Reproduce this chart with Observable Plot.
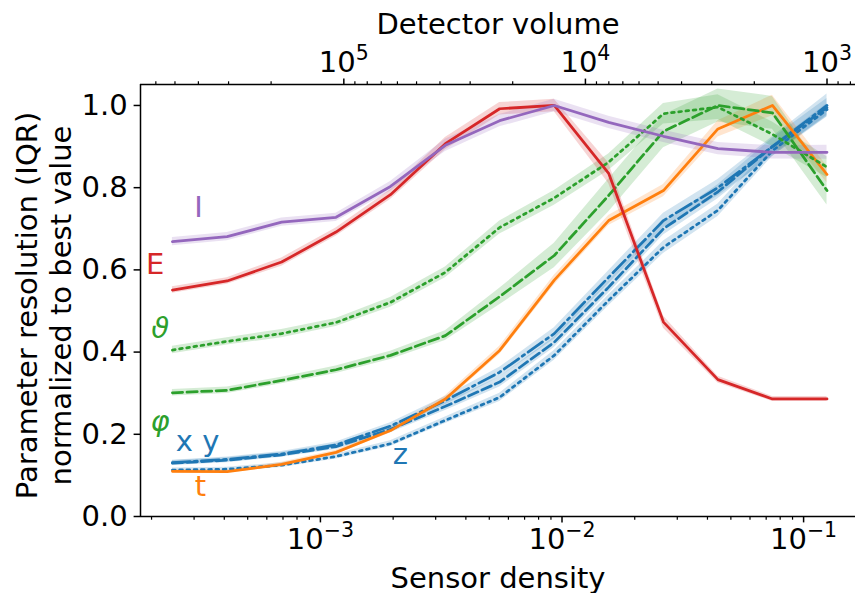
<!DOCTYPE html>
<html><head><meta charset="utf-8">
<script src="https://cdn.jsdelivr.net/npm/d3@7"></script>
<script src="https://cdn.jsdelivr.net/npm/@observablehq/plot@0.6"></script>
<style>body{margin:0;background:#fff}</style>
</head><body><div id="chart"></div>
<script>
// Sensor density of each simulated detector (x positions)
const density = [2.44e-4, 4.11e-4, 6.91e-4, 1.16e-3, 1.95e-3, 3.29e-3, 5.52e-3, 9.29e-3, 1.56e-2, 2.63e-2, 4.42e-2, 7.43e-2, 1.25e-1];
// Normalized resolution (median) and IQR half-widths per parameter
const valI     = [0.669, 0.681, 0.716, 0.728, 0.803, 0.903, 0.963, 1.000, 0.959, 0.925, 0.895, 0.886, 0.886];
const errI     = [0.010, 0.010, 0.010, 0.010, 0.012, 0.015, 0.015, 0.015, 0.015, 0.015, 0.015, 0.016, 0.017];
const valE     = [0.551, 0.573, 0.619, 0.692, 0.783, 0.907, 0.992, 1.000, 0.835, 0.473, 0.333, 0.286, 0.286];
const errE     = [0.008, 0.008, 0.010, 0.010, 0.012, 0.015, 0.015, 0.015, 0.025, 0.015, 0.008, 0.006, 0.006];
const valTheta = [0.405, 0.426, 0.445, 0.472, 0.521, 0.594, 0.703, 0.775, 0.862, 0.980, 0.996, 0.930, 0.850];
const errTheta = [0.009, 0.009, 0.010, 0.010, 0.012, 0.013, 0.016, 0.018, 0.020, 0.025, 0.030, 0.030, 0.025];
const valPhi   = [0.301, 0.307, 0.331, 0.357, 0.392, 0.440, 0.535, 0.635, 0.781, 0.937, 1.000, 0.982, 0.793];
const errPhi   = [0.008, 0.008, 0.008, 0.009, 0.010, 0.012, 0.020, 0.030, 0.040, 0.040, 0.040, 0.040, 0.035];
const valT     = [0.110, 0.109, 0.127, 0.156, 0.209, 0.286, 0.404, 0.575, 0.720, 0.793, 0.943, 1.000, 0.832];
const errT     = [0.004, 0.004, 0.005, 0.005, 0.006, 0.008, 0.010, 0.012, 0.012, 0.015, 0.020, 0.025, 0.020];
const valX     = [0.130, 0.137, 0.150, 0.170, 0.212, 0.268, 0.327, 0.424, 0.558, 0.700, 0.790, 0.900, 0.995];
const errX     = [0.006, 0.006, 0.006, 0.007, 0.008, 0.010, 0.012, 0.013, 0.015, 0.015, 0.017, 0.020, 0.022];
const valY     = [0.131, 0.139, 0.152, 0.174, 0.220, 0.282, 0.351, 0.445, 0.582, 0.720, 0.800, 0.900, 1.000];
const errY     = [0.006, 0.006, 0.006, 0.007, 0.008, 0.010, 0.012, 0.014, 0.016, 0.018, 0.020, 0.024, 0.028];
const valZ     = [0.113, 0.115, 0.125, 0.146, 0.177, 0.234, 0.290, 0.392, 0.526, 0.655, 0.745, 0.890, 0.990];
const errZ     = [0.005, 0.005, 0.006, 0.006, 0.007, 0.008, 0.010, 0.012, 0.013, 0.015, 0.015, 0.014, 0.014];

// Axis ticks
const yTicks = [0, 0.2, 0.4, 0.6, 0.8, 1.0];
const densityMajor = [1e-3, 1e-2, 1e-1];
const densityMinor = [2e-4,3e-4,4e-4,5e-4,6e-4,7e-4,8e-4,9e-4, 2e-3,3e-3,4e-3,5e-3,6e-3,7e-3,8e-3,9e-3, 2e-2,3e-2,4e-2,5e-2,6e-2,7e-2,8e-2,9e-2];
const volumeMajor = [1e5, 1e4, 1e3];
const volumeMinor = [6e5,5e5,4e5,3e5,2e5, 9e4,8e4,7e4,6e4,5e4,4e4,3e4,2e4, 9e3,8e3,7e3,6e3,5e3,4e3,3e3,2e3, 900, 800];
const K = 125; // detector volume = K / sensor density

const xDomain = [1.8e-4, 0.164];
const yDomain = [0, 1.051];

// Direct labels: [text, density, value (baseline)]
const labI = ["I", 3.13e-4, 0.728];
const labE = ["E", 2.07e-4, 0.589];
const labTheta = ["ϑ", 2.17e-4, 0.434];
const labPhi = ["φ", 2.17e-4, 0.207];
const labXY = ["x y", 3.10e-4, 0.159];
const labT = ["t", 3.19e-4, 0.049];
const labZ = ["z", 2.14e-3, 0.128];

const blue = "#1f77b4", orange = "#ff7f0e", green = "#2ca02c", red = "#d62728", purple = "#9467bd";
const DASHED = "10.2,4.4", DOTTED = "2.75,4.5", DASHDOT = "17.6,4.4,2.75,4.4";

const series = [
  {v: valX, e: errX, color: blue, dash: DASHED},
  {v: valY, e: errY, color: blue, dash: DASHDOT},
  {v: valZ, e: errZ, color: blue, dash: DOTTED},
  {v: valT, e: errT, color: orange, dash: null},
  {v: valPhi, e: errPhi, color: green, dash: DASHED},
  {v: valTheta, e: errTheta, color: green, dash: DOTTED},
  {v: valE, e: errE, color: red, dash: null},
  {v: valI, e: errI, color: purple, dash: null}
];
const labels = [
  {l: labI, color: purple}, {l: labE, color: red}, {l: labTheta, color: green, italic: true},
  {l: labPhi, color: green, italic: true}, {l: labXY, color: blue}, {l: labT, color: orange}, {l: labZ, color: blue}
];

const marks = [];
for (const s of series) {
  const rows = density.map((d, i) => ({d, v: s.v[i], lo: s.v[i] - s.e[i], hi: s.v[i] + s.e[i]}));
  marks.push(Plot.areaY(rows, {x: "d", y1: "lo", y2: "hi", fill: s.color, fillOpacity: 0.2}));
}
for (const s of series) {
  const rows = density.map((d, i) => ({d, v: s.v[i]}));
  marks.push(Plot.line(rows, {x: "d", y: "v", stroke: s.color, strokeWidth: 2.75, strokeDasharray: s.dash || undefined}));
}
for (const lb of labels) {
  marks.push(Plot.text([lb.l], {x: d => d[1], y: d => d[2], text: d => d[0], fill: lb.color, fontSize: 29,
    lineAnchor: "bottom", textAnchor: "middle", fontStyle: lb.italic ? "italic" : "normal"}));
}
const sup = p => "10^" + p;
marks.push(
  Plot.ruleY([yDomain[0]], {stroke: "black", strokeWidth: 1.5}),
  Plot.ruleY([yDomain[1]], {stroke: "black", strokeWidth: 1.5}),
  Plot.ruleX([xDomain[0]], {stroke: "black", strokeWidth: 1.5}),
  Plot.axisY(yTicks, {anchor: "left", tickSize: 6.4, tickPadding: 6.4, tickFormat: d3.format(".1f"), fontSize: 29, strokeWidth: 1.5, label: null}),
  Plot.axisX(densityMajor, {anchor: "bottom", tickSize: 6.4, tickPadding: 6, tickFormat: d => sup(Math.round(Math.log10(d))), fontSize: 29, strokeWidth: 1.5, label: null}),
  Plot.axisX(densityMinor, {anchor: "bottom", tickSize: 3.7, tickFormat: () => "", strokeWidth: 1.2, label: null}),
  Plot.axisX(volumeMajor.map(v => K / v), {anchor: "top", tickSize: 6.4, tickPadding: 6, tickFormat: d => sup(Math.round(Math.log10(K / d))), fontSize: 29, strokeWidth: 1.5, label: null}),
  Plot.axisX(volumeMinor.map(v => K / v), {anchor: "top", tickSize: 3.7, tickFormat: () => "", strokeWidth: 1.2, label: null}),
  Plot.text(["Sensor density"], {frameAnchor: "bottom", dy: 71, lineAnchor: "bottom", textAnchor: "middle", fontSize: 29}),
  Plot.text(["Detector volume"], {frameAnchor: "top", dy: -51, lineAnchor: "bottom", textAnchor: "middle", fontSize: 29}),
  Plot.text(["Parameter resolution (IQR)"], {frameAnchor: "left", dx: -104, dy: 5, rotate: -90, lineAnchor: "bottom", textAnchor: "middle", fontSize: 29}),
  Plot.text(["normalized to best value"], {frameAnchor: "left", dx: -70, dy: 5, rotate: -90, lineAnchor: "bottom", textAnchor: "middle", fontSize: 29})
);

const svg = Plot.plot({
  width: 855, height: 593,
  marginLeft: 140, marginRight: 0, marginTop: 84, marginBottom: 77,
  x: {type: "log", domain: xDomain},
  y: {domain: yDomain},
  style: {fontFamily: "DejaVu Sans", fontSize: "29px", color: "black", background: "white"},
  marks
});
// Render "10^n" tick labels as mathtext-style superscripts
d3.select(svg).selectAll("text").each(function() {
  const m = /^10\^(-?\d+)$/.exec(this.textContent);
  if (!m) return;
  const sel = d3.select(this);
  sel.text("");
  sel.append("tspan").text("10");
  sel.append("tspan").attr("dy", -12).attr("font-size", 20.5).text(m[1].replace("-", "\u2212"));
});
document.getElementById("chart").appendChild(svg);
</script>
</body></html>
